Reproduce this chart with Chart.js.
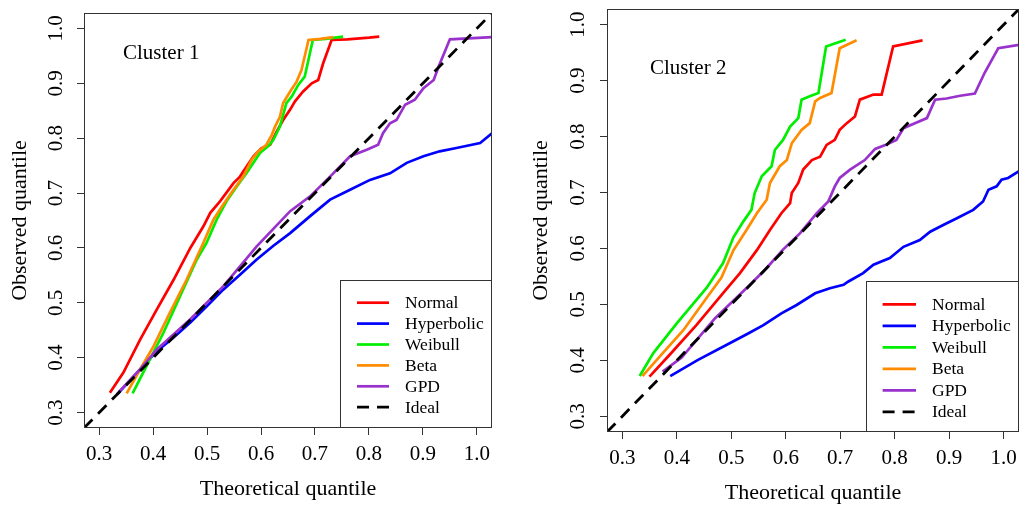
<!DOCTYPE html>
<html>
<head>
<meta charset="utf-8">
<title>Q-Q plots by cluster</title>
<script src="https://cdn.jsdelivr.net/npm/chart.js@4.4.1/dist/chart.umd.min.js"></script>
<style>
  html, body { margin: 0; padding: 0; background: #fff; }
  .wrap { position: relative; width: 1020px; height: 506px; overflow: hidden; }
  canvas { position: absolute; top: 0; }
  #cluster1 { left: 0; }
  #cluster2 { left: 510px; }
</style>
</head>
<body>
<div class="wrap">
  <canvas id="cluster1" width="510" height="506"></canvas>
  <canvas id="cluster2" width="510" height="506"></canvas>
</div>
<script>
// Data (theoretical quantile, observed quantile)
const seriesNames = ['Normal', 'Hyperbolic', 'Weibull', 'Beta', 'GPD', 'Ideal'];
const tickValues = [0.3, 0.4, 0.5, 0.6, 0.7, 0.8, 0.9, 1.0];
const axisRange = [0.272, 1.028];

// Cluster 1
const c1Normal = [[0.320,0.336],[0.345,0.373],[0.376,0.433],[0.407,0.488],[0.438,0.542],[0.469,0.600],[0.493,0.639],[0.506,0.664],[0.524,0.685],[0.549,0.718],[0.561,0.730],[0.573,0.748],[0.586,0.767],[0.601,0.782],[0.617,0.788],[0.629,0.812],[0.641,0.833],[0.654,0.852],[0.663,0.867],[0.678,0.885],[0.694,0.900],[0.706,0.906],[0.715,0.936],[0.731,0.979],[0.760,0.980],[0.800,0.983],[0.819,0.985]];
const c1Hyperbolic = [[0.333,0.333],[0.370,0.372],[0.407,0.412],[0.438,0.437],[0.469,0.464],[0.500,0.494],[0.530,0.524],[0.561,0.551],[0.592,0.579],[0.623,0.604],[0.654,0.627],[0.691,0.658],[0.728,0.688],[0.765,0.706],[0.802,0.724],[0.839,0.736],[0.870,0.755],[0.901,0.767],[0.931,0.776],[0.962,0.782],[1.006,0.791],[1.028,0.809]];
const c1Weibull = [[0.362,0.335],[0.388,0.385],[0.419,0.445],[0.450,0.512],[0.481,0.579],[0.499,0.609],[0.518,0.652],[0.536,0.685],[0.555,0.712],[0.573,0.736],[0.598,0.773],[0.614,0.786],[0.623,0.797],[0.635,0.821],[0.647,0.864],[0.657,0.876],[0.669,0.897],[0.681,0.912],[0.696,0.979],[0.720,0.981],[0.752,0.985]];
const c1Beta = [[0.351,0.335],[0.376,0.379],[0.401,0.421],[0.431,0.482],[0.462,0.542],[0.493,0.609],[0.512,0.652],[0.530,0.679],[0.549,0.706],[0.567,0.730],[0.583,0.761],[0.595,0.776],[0.610,0.788],[0.620,0.806],[0.626,0.821],[0.635,0.839],[0.641,0.864],[0.654,0.885],[0.666,0.903],[0.675,0.924],[0.688,0.979],[0.710,0.981],[0.734,0.984]];
const c1Gpd = [[0.336,0.337],[0.376,0.379],[0.407,0.415],[0.469,0.470],[0.530,0.530],[0.592,0.603],[0.654,0.667],[0.691,0.694],[0.728,0.730],[0.765,0.767],[0.796,0.779],[0.817,0.788],[0.826,0.809],[0.839,0.827],[0.851,0.833],[0.867,0.861],[0.885,0.870],[0.901,0.891],[0.920,0.906],[0.929,0.930],[0.950,0.980],[1.028,0.984]];

// Cluster 2
const c2Normal = [[0.350,0.371],[0.387,0.410],[0.436,0.463],[0.485,0.520],[0.516,0.556],[0.547,0.597],[0.571,0.633],[0.592,0.663],[0.608,0.681],[0.611,0.699],[0.623,0.717],[0.632,0.741],[0.648,0.758],[0.663,0.764],[0.675,0.785],[0.690,0.794],[0.699,0.812],[0.712,0.824],[0.727,0.836],[0.736,0.866],[0.761,0.875],[0.776,0.875],[0.797,0.961],[0.851,0.972]];
const c2Hyperbolic = [[0.388,0.372],[0.439,0.401],[0.498,0.431],[0.531,0.448],[0.559,0.463],[0.592,0.484],[0.620,0.499],[0.654,0.520],[0.681,0.529],[0.706,0.535],[0.715,0.541],[0.742,0.556],[0.761,0.571],[0.791,0.583],[0.816,0.603],[0.846,0.615],[0.865,0.630],[0.889,0.642],[0.914,0.654],[0.944,0.669],[0.962,0.684],[0.972,0.705],[0.987,0.711],[0.996,0.723],[1.008,0.726],[1.028,0.738]];
const c2Weibull = [[0.332,0.372],[0.357,0.413],[0.400,0.466],[0.455,0.530],[0.485,0.574],[0.504,0.620],[0.522,0.648],[0.537,0.669],[0.543,0.699],[0.556,0.729],[0.574,0.747],[0.580,0.776],[0.595,0.794],[0.608,0.818],[0.623,0.833],[0.629,0.866],[0.644,0.872],[0.660,0.878],[0.674,0.961],[0.710,0.973]];
const c2Beta = [[0.337,0.372],[0.369,0.407],[0.412,0.454],[0.461,0.520],[0.482,0.548],[0.504,0.597],[0.528,0.633],[0.547,0.663],[0.565,0.687],[0.571,0.717],[0.589,0.747],[0.602,0.758],[0.611,0.788],[0.629,0.812],[0.644,0.824],[0.654,0.863],[0.663,0.869],[0.684,0.878],[0.699,0.958],[0.730,0.972]];
const c2Gpd = [[0.374,0.380],[0.409,0.405],[0.470,0.475],[0.531,0.532],[0.562,0.562],[0.595,0.598],[0.626,0.627],[0.657,0.663],[0.678,0.684],[0.690,0.711],[0.699,0.726],[0.718,0.741],[0.745,0.758],[0.764,0.778],[0.785,0.786],[0.803,0.794],[0.816,0.815],[0.837,0.824],[0.859,0.833],[0.874,0.866],[0.895,0.868],[0.920,0.873],[0.947,0.877],[0.965,0.914],[0.990,0.958],[1.028,0.964]];

// Styles
const FONT = "'Liberation Serif', 'Times New Roman', serif";
const lineColors = ['#ff0000', '#0000ff', '#00ee00', '#ff8c00', '#9932cc', '#000000'];
const frameColor = '#333333';

// Frame, panel label and legend box (R style)
const framePlugin = {
  id: 'frame',
  afterDatasetsDraw(chart, args, opts) {
    const ctx = chart.ctx;
    const a = chart.chartArea;
    ctx.save();
    ctx.strokeStyle = frameColor;
    ctx.lineWidth = 1;
    ctx.strokeRect(Math.round(a.left) + 0.5, Math.round(a.top) + 0.5,
                   Math.round(a.right - a.left) - 1, Math.round(a.bottom - a.top) - 1);

    ctx.fillStyle = '#000';
    ctx.font = '21px ' + FONT;
    ctx.textAlign = 'left';
    ctx.textBaseline = 'middle';
    ctx.fillText(opts.title, a.left + opts.titleX, a.top + opts.titleY);

    // legend
    const lg = opts.legend;
    const x0 = Math.round(a.right - lg.w);
    const y0 = Math.round(a.bottom - lg.h);
    ctx.fillStyle = '#fff';
    ctx.fillRect(x0, y0, Math.round(a.right) - x0, Math.round(a.bottom) - y0);
    ctx.strokeStyle = frameColor;
    ctx.strokeRect(x0 + 0.5, y0 + 0.5, Math.round(a.right) - x0 - 1, Math.round(a.bottom) - y0 - 1);
    ctx.font = lg.fontSize + 'px ' + FONT;
    chart.data.datasets.forEach(function(ds, i) {
      const y = y0 + lg.row0 + i * lg.step;
      ctx.beginPath();
      ctx.strokeStyle = ds.borderColor;
      ctx.lineWidth = ds.borderWidth;
      ctx.setLineDash(ds.borderDash || []);
      ctx.moveTo(x0 + lg.lineX0, y);
      ctx.lineTo(x0 + lg.lineX1, y);
      ctx.stroke();
      ctx.setLineDash([]);
      ctx.fillStyle = '#000';
      ctx.fillText(ds.label, x0 + lg.textX, y + 1);
    });
    ctx.restore();
  }
};

function toPoints(pairs) {
  return pairs.map(function(p) { return { x: p[0], y: p[1] }; });
}

function makePanel(canvasId, series, L) {
  const all = series.concat([[[axisRange[0], axisRange[0]], [axisRange[1], axisRange[1]]]]);
  const datasets = all.map(function(pairs, i) {
    const ideal = i === all.length - 1;
    return {
      label: seriesNames[i],
      data: toPoints(pairs),
      borderColor: lineColors[i],
      borderWidth: ideal ? 2.8 : 2.7,
      borderDash: ideal ? [12, 8] : [],
      pointRadius: 0,
      tension: 0,
      fill: false,
      order: all.length - i
    };
  });

  return new Chart(document.getElementById(canvasId), {
    type: 'line',
    data: { datasets: datasets },
    options: {
      responsive: false,
      animation: false,
      layout: { padding: { top: L.top, right: L.right, left: 0, bottom: 0 } },
      plugins: {
        legend: { display: false },
        tooltip: { enabled: false },
        frame: { title: L.title, titleX: L.titleX, titleY: L.titleY, legend: L.legend }
      },
      scales: {
        x: {
          type: 'linear',
          min: axisRange[0],
          max: axisRange[1],
          afterBuildTicks: function(s) { s.ticks = tickValues.map(function(v) { return { value: v }; }); },
          afterFit: function(s) { s.height = L.xAxisH; s.paddingLeft = 0; s.paddingRight = 0; },
          grid: { display: true, drawOnChartArea: false, drawTicks: true, tickLength: 7, color: frameColor },
          border: { display: false },
          ticks: {
            autoSkip: false, maxRotation: 0, padding: L.xTickPad, color: '#000',
            font: { family: FONT, size: 21 },
            callback: function(v) { return Number(v).toFixed(1); }
          },
          title: {
            display: true, text: 'Theoretical quantile', color: '#000',
            font: { family: FONT, size: 22 },
            padding: { top: 0, bottom: L.xTitlePad }
          }
        },
        y: {
          type: 'linear',
          min: axisRange[0],
          max: axisRange[1],
          afterBuildTicks: function(s) { s.ticks = tickValues.map(function(v) { return { value: v }; }); },
          afterFit: function(s) { s.width = L.yAxisW; s.paddingTop = 0; s.paddingBottom = 0; },
          grid: { display: true, drawOnChartArea: false, drawTicks: true, tickLength: 7, color: frameColor },
          border: { display: false },
          ticks: {
            autoSkip: false, minRotation: 90, maxRotation: 90, crossAlign: 'center',
            padding: L.yTickPad, color: '#000',
            font: { family: FONT, size: 21 },
            callback: function(v) { return Number(v).toFixed(1); }
          },
          title: {
            display: true, text: 'Observed quantile', color: '#000',
            font: { family: FONT, size: 22 },
            padding: { top: L.yTitlePad, bottom: 0 }
          }
        }
      }
    },
    plugins: [framePlugin]
  });
}

makePanel('cluster1', [c1Normal, c1Hyperbolic, c1Weibull, c1Beta, c1Gpd], {
  top: 13, right: 18, yAxisW: 84, xAxisH: 78,
  xTickPad: 7, yTickPad: 7.4, xTitlePad: 4, yTitlePad: 7,
  title: 'Cluster 1', titleX: 39, titleY: 40,
  legend: { w: 152, h: 148, lineX0: 17, lineX1: 49, textX: 65, row0: 22.7, step: 20.9, fontSize: 17.5 }
});

makePanel('cluster2', [c2Normal, c2Hyperbolic, c2Weibull, c2Beta, c2Gpd], {
  top: 9, right: 1, yAxisW: 97, xAxisH: 74,
  xTickPad: 7, yTickPad: 8.4, xTitlePad: 0, yTitlePad: 18.5,
  title: 'Cluster 2', titleX: 43, titleY: 59,
  legend: { w: 153, h: 151, lineX0: 16.6, lineX1: 50, textX: 66, row0: 23.3, step: 21.5, fontSize: 17.5 }
});
</script>
</body>
</html>
